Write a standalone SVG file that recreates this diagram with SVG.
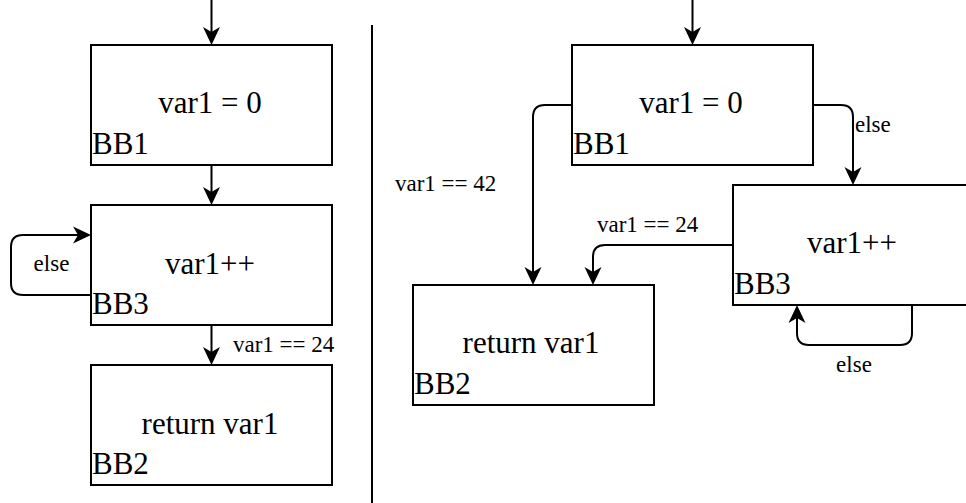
<svg xmlns="http://www.w3.org/2000/svg" width="966" height="503" viewBox="0 0 966 503">
  <style>
    .box { fill: #ffffff; stroke: #000000; stroke-width: 2; }
    .edge { fill: none; stroke: #000000; stroke-width: 2; marker-end: url(#arrow); }
    .plain { fill: none; stroke: #000000; stroke-width: 2; }
    .main { font-family: "Liberation Serif", "Times New Roman", serif; font-size: 31px; fill: #000000; }
    .mid { text-anchor: middle; }
    .lbl { font-family: "Liberation Serif", "Times New Roman", serif; font-size: 23px; fill: #000000; }
  </style>
  <defs>
    <!-- classic notched arrowhead; tip sits 12px past the path end -->
    <marker id="arrow" markerUnits="userSpaceOnUse" viewBox="-8 -10 22 20" refX="0" refY="0" markerWidth="22" markerHeight="20" orient="auto" overflow="visible">
      <path d="M12,0 L-6,-8.5 L-1,0 L-6,8.5 Z" fill="#000000"/>
    </marker>
  </defs>

  <rect width="966" height="503" fill="#ffffff"/>

  <!-- divider between the two control-flow graphs -->
  <line class="plain" x1="372" y1="25" x2="372" y2="503"/>

  <!-- connectors -->
  <g id="connectors">
    <!-- left graph -->
    <path class="edge" d="M211.5,0 V33"/>
    <path class="edge" d="M211.5,165 V193"/>
    <path class="edge" d="M211.5,325 V353"/>
    <path class="edge" d="M91,295 H23 Q11,295 11,283 V247 Q11,235 23,235 H79"/>
    <!-- right graph -->
    <path class="edge" d="M692.5,0 V33"/>
    <path class="edge" d="M572,105 H545 Q533,105 533,117 V273"/>
    <path class="edge" d="M813,105 H841 Q853,105 853,117 V173"/>
    <path class="edge" d="M733,245 H605 Q593,245 593,257 V273"/>
    <path class="edge" d="M912,305 V333 Q912,345 900,345 H809 Q797,345 797,333 V317"/>
  </g>

  <!-- edge labels -->
  <g id="edge-labels">
    <text class="lbl" x="233" y="352">var1 == 24</text>
    <text class="lbl mid" x="51.5" y="271">else</text>
    <text class="lbl" x="395" y="191">var1 == 42</text>
    <text class="lbl" x="855" y="132">else</text>
    <text class="lbl" x="597" y="232">var1 == 24</text>
    <text class="lbl mid" x="854" y="372">else</text>
  </g>

  <!-- left graph nodes -->
  <g id="L-BB1">
    <rect class="box" x="91" y="45" width="241" height="120"/>
    <text class="main mid" x="210" y="113">var1 = 0</text>
    <text class="main" x="92" y="154">BB1</text>
  </g>
  <g id="L-BB3">
    <rect class="box" x="91" y="205" width="241" height="120"/>
    <text class="main mid" x="210" y="274">var1++</text>
    <text class="main" x="92" y="314">BB3</text>
  </g>
  <g id="L-BB2">
    <rect class="box" x="91" y="365" width="241" height="120"/>
    <text class="main mid" x="210" y="434">return var1</text>
    <text class="main" x="92" y="474">BB2</text>
  </g>

  <!-- right graph nodes -->
  <g id="R-BB1">
    <rect class="box" x="572" y="45" width="241" height="120"/>
    <text class="main mid" x="691" y="113">var1 = 0</text>
    <text class="main" x="573" y="154">BB1</text>
  </g>
  <g id="R-BB3">
    <rect class="box" x="733" y="185" width="241" height="120"/>
    <text class="main mid" x="852" y="253">var1++</text>
    <text class="main" x="734" y="294">BB3</text>
  </g>
  <g id="R-BB2">
    <rect class="box" x="413" y="285" width="241" height="120"/>
    <text class="main mid" x="531" y="353">return var1</text>
    <text class="main" x="414" y="394">BB2</text>
  </g>
</svg>
